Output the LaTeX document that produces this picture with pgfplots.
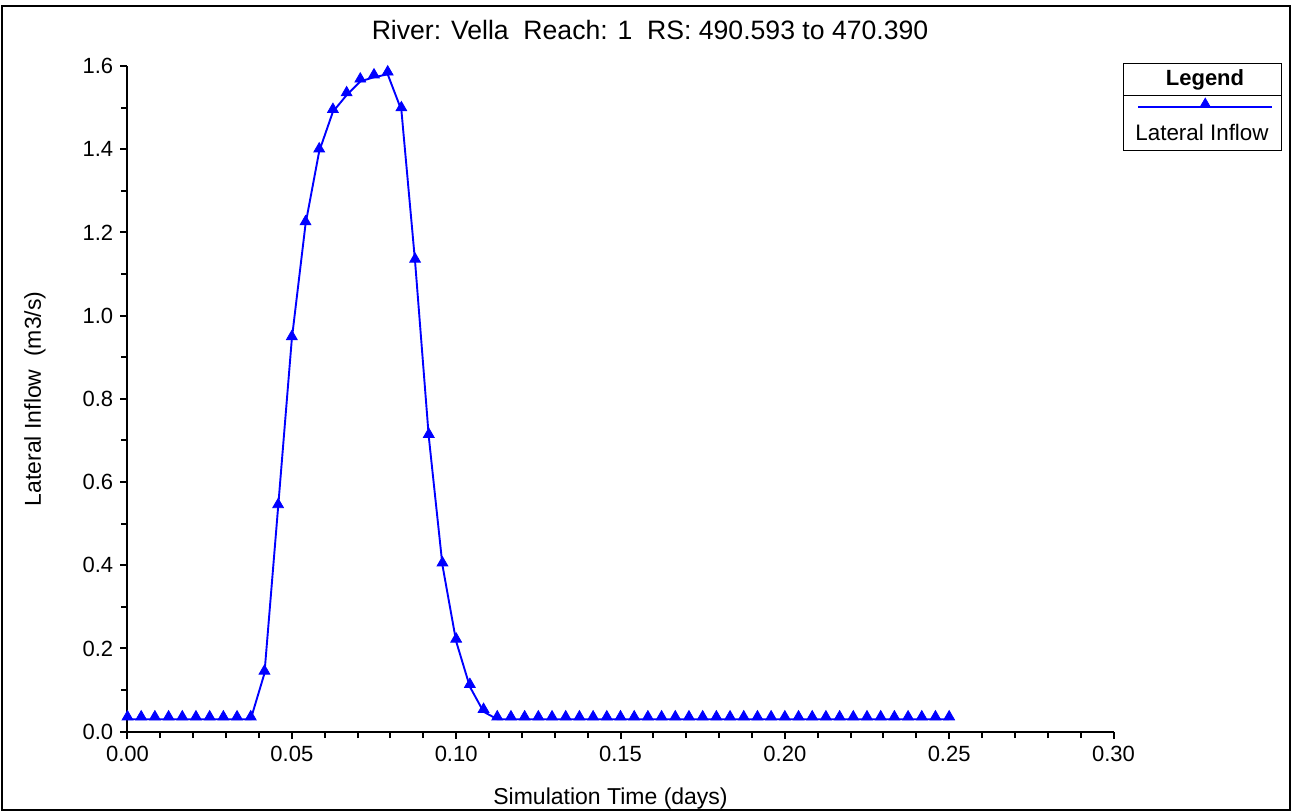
\documentclass[border=0pt]{standalone}
\usepackage{fontspec}
\setmainfont{Liberation Sans}
\usepackage{pgfplots}
\usepackage{pgfplotstable}
\pgfplotsset{compat=1.18}
\definecolor{hecblue}{RGB}{0,0,255}

\pgfplotstableread{
t q
0 0.03
0.00417 0.03
0.00833 0.03
0.0125 0.03
0.01667 0.03
0.02083 0.03
0.025 0.03
0.02917 0.03
0.03333 0.03
0.0375 0.03
0.04167 0.14
0.04583 0.54
0.05 0.944
0.05417 1.22
0.05833 1.395
0.0625 1.49
0.06667 1.53
0.07083 1.563
0.075 1.573
0.07917 1.58
0.08333 1.494
0.0875 1.13
0.09167 0.709
0.09583 0.40
0.1 0.217
0.10417 0.108
0.10833 0.048
0.1125 0.03
0.11667 0.03
0.12083 0.03
0.125 0.03
0.12917 0.03
0.13333 0.03
0.1375 0.03
0.14167 0.03
0.14583 0.03
0.15 0.03
0.15417 0.03
0.15833 0.03
0.1625 0.03
0.16667 0.03
0.17083 0.03
0.175 0.03
0.17917 0.03
0.18333 0.03
0.1875 0.03
0.19167 0.03
0.19583 0.03
0.2 0.03
0.20417 0.03
0.20833 0.03
0.2125 0.03
0.21667 0.03
0.22083 0.03
0.225 0.03
0.22917 0.03
0.23333 0.03
0.2375 0.03
0.24167 0.03
0.24583 0.03
0.25 0.03
}\lateral

\begin{document}
\begin{tikzpicture}[x=1pt,y=1pt]
\useasboundingbox (0,0) rectangle (646,406);
\draw[line width=1pt] (0.85,1) rectangle (644.75,403.15);
\begin{axis}[
  at={(63.75pt,40.15pt)}, anchor=south west,
  scale only axis, width=493pt, height=332.85pt,
  xmin=0, xmax=0.3, ymin=0, ymax=1.6,
  axis x line*=bottom, axis y line*=left,
  axis line style={line width=1pt,-},
  tick align=outside,
  major tick length=3.6pt, minor tick length=3.2pt,
  tick style={black, line width=1pt},
  xtick={0,0.05,0.1,0.15,0.2,0.25,0.3}, minor x tick num=4,
  ytick={0,0.2,0.4,0.6,0.8,1.0,1.2,1.4,1.6}, minor y tick num=1,
  /pgf/number format/assume math mode=true,
  xticklabel style={/pgf/number format/.cd, fixed, fixed zerofill, precision=2},
  yticklabel style={/pgf/number format/.cd, fixed, fixed zerofill, precision=1},
  tick label style={font=\fontsize{11}{13}\selectfont},
  xlabel={Simulation Time (days)},
  ylabel={Lateral Inflow\ \ (m3/s)},
  label style={font=\fontsize{11.5}{13}\selectfont},
  xlabel style={at={(axis description cs:0.4899,0)}, anchor=base, yshift=-36.65pt},
  ylabel style={at={(axis description cs:-0.0878,0.5)}, anchor=base, rotate=0},
  legend style={at={(axis description cs:1.02353,0.9440)}, anchor=west, draw=none, fill=none, inner sep=0pt, nodes={inner sep=0pt}},
  legend image code/.code={\draw[mark repeat=2, mark phase=2, #1] plot coordinates {(0pt,0pt) (33.6pt,0pt) (67.15pt,0pt)};},
]
\addplot[hecblue, line width=0.95pt, mark=triangle*, mark size=3.1pt,
  every mark/.append style={yshift=1.2pt, line width=0.4pt}] table[x=t, y=q] {\lateral};
\addlegendentry{}
\end{axis}
\draw[line width=0.5pt] (561.65,330.5) rectangle (640.85,374.35);
\draw[line width=0.5pt] (561.65,358.15) -- (640.85,358.15);
\node[anchor=base, inner sep=0pt, font=\fontsize{11}{13}\selectfont\bfseries] at (602.5,363.1) {Legend};
\node[anchor=base, inner sep=0pt, font=\fontsize{11.2}{13}\selectfont] at (601,335.6) {Lateral Inflow};
\node[anchor=base, inner sep=0pt, font=\fontsize{13.3}{15}\selectfont] at (325,386) {River: Vella\ \ Reach: 1\ \ RS: 490.593 to 470.390};
\end{tikzpicture}
\end{document}
